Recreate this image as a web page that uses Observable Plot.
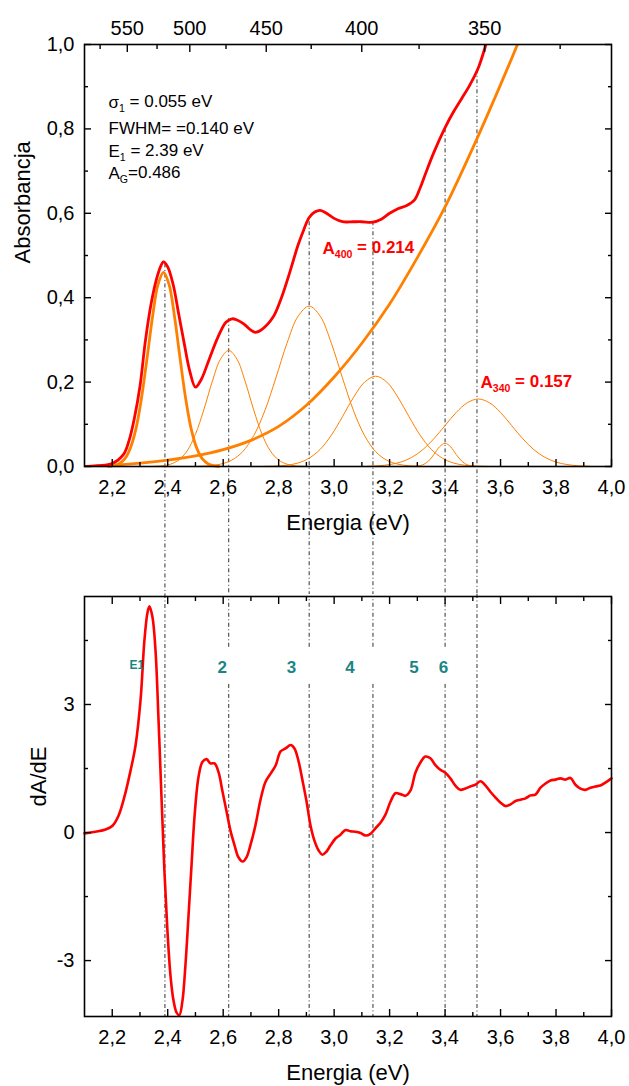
<!DOCTYPE html>
<html>
<head>
<meta charset="utf-8">
<script src="https://cdn.jsdelivr.net/npm/d3@7"></script>
<script src="https://cdn.jsdelivr.net/npm/@observablehq/plot@0.6"></script>
<style>
  html, body { margin: 0; padding: 0; background: #fff; }
  #chart svg { display: block; }
</style>
</head>
<body>
<div id="chart"></div>
<script>
// ---------------- DATA ----------------
// Total absorbance (red)
const totalE = [2.10, 2.15, 2.20, 2.24, 2.26, 2.28, 2.30, 2.32, 2.34, 2.36, 2.375, 2.385, 2.40, 2.42, 2.44, 2.46, 2.48, 2.50, 2.52, 2.55, 2.58, 2.61, 2.632, 2.65, 2.674, 2.70, 2.716, 2.74, 2.78, 2.81, 2.84, 2.87, 2.89, 2.91, 2.93, 2.95, 2.975, 3.00, 3.03, 3.07, 3.10, 3.14, 3.17, 3.20, 3.23, 3.26, 3.29, 3.31, 3.33, 3.36, 3.40, 3.43, 3.46, 3.49, 3.52, 3.545, 3.56];
const totalA = [0.000, 0.002, 0.007, 0.028, 0.060, 0.115, 0.190, 0.300, 0.385, 0.445, 0.475, 0.485, 0.473, 0.430, 0.360, 0.290, 0.225, 0.188, 0.205, 0.255, 0.305, 0.342, 0.350, 0.347, 0.338, 0.323, 0.318, 0.325, 0.354, 0.400, 0.460, 0.525, 0.560, 0.590, 0.603, 0.607, 0.599, 0.588, 0.580, 0.580, 0.580, 0.579, 0.586, 0.600, 0.611, 0.618, 0.632, 0.660, 0.695, 0.745, 0.803, 0.840, 0.872, 0.905, 0.945, 0.995, 1.03];
// Background (thick orange)
const bgE = [2.10, 2.20, 2.30, 2.40, 2.50, 2.60, 2.70, 2.80, 2.90, 3.00, 3.10, 3.20, 3.30, 3.40, 3.50, 3.60, 3.67, 3.70];
const bgA = [0.000, 0.003, 0.008, 0.015, 0.025, 0.040, 0.062, 0.095, 0.145, 0.212, 0.292, 0.385, 0.495, 0.615, 0.755, 0.905, 1.015, 1.07];
// Band 1 (thick orange)
const band1E = [2.185, 2.205, 2.225, 2.245, 2.265, 2.285, 2.305, 2.325, 2.345, 2.365, 2.385, 2.405, 2.425, 2.445, 2.465, 2.485, 2.505, 2.525, 2.545, 2.565, 2.585];
const band1A = [0.0005, 0.002, 0.0067, 0.018, 0.043, 0.088, 0.160, 0.254, 0.353, 0.431, 0.46, 0.431, 0.353, 0.254, 0.160, 0.088, 0.043, 0.018, 0.0067, 0.002, 0.0005];
// Bands 2-6 (thin orange)
const band2E = [2.35, 2.38, 2.41, 2.44, 2.47, 2.50, 2.53, 2.56, 2.59, 2.62, 2.65, 2.68, 2.71, 2.74, 2.77, 2.80, 2.83, 2.86, 2.89];
const band2A = [0.0004, 0.0016, 0.0055, 0.0154, 0.037, 0.0765, 0.134, 0.200, 0.254, 0.275, 0.254, 0.200, 0.134, 0.0765, 0.037, 0.0154, 0.0055, 0.0016, 0.0004];
const band3E = [2.51, 2.55, 2.59, 2.63, 2.67, 2.71, 2.75, 2.79, 2.83, 2.87, 2.91, 2.95, 2.99, 3.03, 3.07, 3.11, 3.15, 3.19, 3.23, 3.27, 3.31];
const band3A = [0.0005, 0.0018, 0.0055, 0.0148, 0.035, 0.073, 0.132, 0.210, 0.292, 0.356, 0.38, 0.356, 0.292, 0.210, 0.132, 0.073, 0.035, 0.0148, 0.0055, 0.0018, 0.0005];
const band4E = [2.75, 2.79, 2.83, 2.87, 2.91, 2.95, 2.99, 3.03, 3.07, 3.11, 3.15, 3.19, 3.23, 3.27, 3.31, 3.35, 3.39, 3.43, 3.47, 3.51, 3.55];
const band4A = [0.0003, 0.001, 0.0031, 0.0083, 0.0198, 0.0409, 0.0743, 0.118, 0.164, 0.200, 0.214, 0.200, 0.164, 0.118, 0.0743, 0.0409, 0.0198, 0.0083, 0.0031, 0.001, 0.0003];
const band5E = [3.28, 3.30, 3.32, 3.34, 3.36, 3.38, 3.40, 3.42, 3.44, 3.46, 3.48, 3.50, 3.52];
const band5A = [0.00015, 0.0009, 0.0040, 0.0127, 0.0286, 0.0467, 0.055, 0.0467, 0.0286, 0.0127, 0.0040, 0.0009, 0.00015];
const band6E = [3.12, 3.16, 3.20, 3.24, 3.28, 3.32, 3.36, 3.40, 3.44, 3.48, 3.52, 3.56, 3.60, 3.64, 3.68, 3.72, 3.76, 3.80, 3.84, 3.88, 3.92];
const band6A = [0.0006, 0.0018, 0.0046, 0.0105, 0.0217, 0.040, 0.066, 0.097, 0.128, 0.151, 0.16, 0.151, 0.128, 0.097, 0.066, 0.040, 0.0217, 0.0105, 0.0046, 0.0018, 0.0006];

// Derivative dA/dE (bottom panel)
const derivE = [2.100, 2.140, 2.176, 2.201, 2.223, 2.244, 2.266, 2.284, 2.302, 2.316, 2.327, 2.334, 2.345, 2.356, 2.367, 2.378, 2.388, 2.399, 2.410, 2.421, 2.432, 2.442, 2.453, 2.464, 2.475, 2.486, 2.497, 2.511, 2.525, 2.540, 2.554, 2.569, 2.583, 2.597, 2.612, 2.626, 2.641, 2.655, 2.670, 2.684, 2.698, 2.716, 2.734, 2.752, 2.771, 2.789, 2.807, 2.825, 2.843, 2.857, 2.871, 2.886, 2.900, 2.915, 2.929, 2.944, 2.958, 2.972, 2.987, 3.005, 3.023, 3.041, 3.059, 3.077, 3.095, 3.113, 3.131, 3.149, 3.167, 3.185, 3.203, 3.221, 3.239, 3.257, 3.275, 3.293, 3.311, 3.329, 3.347, 3.365, 3.383, 3.401, 3.419, 3.437, 3.455, 3.473, 3.491, 3.509, 3.528, 3.546, 3.564, 3.582, 3.600, 3.618, 3.636, 3.654, 3.672, 3.690, 3.708, 3.726, 3.744, 3.762, 3.780, 3.798, 3.816, 3.834, 3.852, 3.870, 3.888, 3.906, 3.924, 3.942, 3.960, 3.978, 4.000];
const derivV = [-0.02, 0.02, 0.07, 0.16, 0.40, 0.84, 1.45, 2.04, 3.10, 4.50, 5.15, 5.30, 5.05, 4.27, 2.62, 0.75, -0.89, -2.30, -3.35, -3.94, -4.22, -4.28, -3.95, -3.10, -1.95, -0.75, 0.40, 1.30, 1.65, 1.72, 1.62, 1.62, 1.42, 0.98, 0.50, 0.05, -0.30, -0.58, -0.68, -0.58, -0.30, 0.16, 0.75, 1.18, 1.38, 1.57, 1.90, 1.97, 2.05, 1.97, 1.69, 1.22, 0.75, 0.16, -0.19, -0.42, -0.52, -0.45, -0.30, -0.14, -0.05, 0.06, 0.03, 0.02, -0.01, -0.07, -0.03, 0.10, 0.23, 0.42, 0.72, 0.92, 0.90, 0.86, 0.98, 1.40, 1.64, 1.78, 1.74, 1.58, 1.47, 1.40, 1.27, 1.10, 1.00, 1.03, 1.08, 1.12, 1.20, 1.10, 0.95, 0.82, 0.70, 0.62, 0.66, 0.74, 0.77, 0.80, 0.87, 0.89, 1.05, 1.15, 1.22, 1.24, 1.27, 1.24, 1.28, 1.12, 1.03, 1.00, 1.05, 1.08, 1.10, 1.17, 1.27];

// Band positions (vertical dash-dot lines) and where they start on the red curve
const bandLineE = [2.39, 2.62, 2.91, 3.14, 3.40, 3.515];
const bandLineTopA = [0.48, 0.35, 0.58, 0.58, 0.80, 0.94];
const bandLineBroken = [false, true, true, true, true, false];
const brokenRange = [3.47, 4.34];

// Axes
const energyDomain = [2.1, 4.0];
const absDomain = [0, 1];
const derivDomain = [-4.31, 5.53];
const energyTicks = [2.2, 2.4, 2.6, 2.8, 3.0, 3.2, 3.4, 3.6, 3.8, 4.0];
const energyMinor = [2.3, 2.5, 2.7, 2.9, 3.1, 3.3, 3.5, 3.7, 3.9];
const absTicks = [0, 0.2, 0.4, 0.6, 0.8, 1.0];
const absMinor = [0.1, 0.3, 0.5, 0.7, 0.9];
const derivTicks = [-3, 0, 3];
const derivMinor = [-1.5, 1.5, 4.5];
const nmTicks = [550, 500, 450, 400, 350];
const nmMinor = [575, 525, 475, 425, 375, 325];
const HC = 1239.84; // eV·nm

// Texts
const fitParams = ["σ_{1} = 0.055 eV", "FWHM= =0.140 eV", "E_{1} = 2.39 eV", "A_{G}=0.486"];
const a400Label = "A_{400} = 0.214";
const a340Label = "A_{340} = 0.157";
const peakLabels = ["2", "3", "4", "5", "6"];
const peakLabelE = [2.597, 2.846, 3.057, 3.288, 3.394];
const e1Label = "E1";
const e1LabelE = 2.289;
const peakLabelLevel = 3.87;

// ---------------- HELPERS ----------------
const FONT = "'Liberation Sans', Arial, Helvetica, sans-serif";
const RED = "#ff0000";
const ORANGE = "#ff8000";
const TEAL = "#1a8585";
const DASH = "4,2.5,1,2.5";
const comma1 = d => d.toFixed(1).replace(".", ",");
const rows = (E, V) => E.map((e, i) => ({E: e, V: V[i]}));
const blank = () => "";

function subscripts(svg) {
  const ns = "http://www.w3.org/2000/svg";
  svg.querySelectorAll("text").forEach(t => {
    const s = t.textContent;
    if (!s.includes("_{")) return;
    while (t.firstChild) t.removeChild(t.firstChild);
    const re = /_\{([^}]*)\}/g;
    let last = 0, m, up = false;
    const plain = str => {
      const ts = document.createElementNS(ns, "tspan");
      if (up) { ts.setAttribute("dy", "-0.28em"); up = false; }
      ts.textContent = str;
      t.appendChild(ts);
    };
    while ((m = re.exec(s))) {
      if (m.index > last) plain(s.slice(last, m.index));
      const sub = document.createElementNS(ns, "tspan");
      sub.style.fontSize = "0.62em";
      sub.setAttribute("dy", "0.45em");
      sub.textContent = m[1];
      t.appendChild(sub);
      up = true;
      last = re.lastIndex;
    }
    if (last < s.length) plain(s.slice(last));
  });
}

const axisCommon = {stroke: "black", strokeWidth: 1.4, label: null};
const ruleStyle = {stroke: "#1a1a1a", strokeWidth: 0.9, strokeDasharray: DASH};
const chart = document.getElementById("chart");

// ---------------- TOP PANEL ----------------
const TOP_GAP = 128; // extension of band lines down to the lower panel
const bandRows = bandLineE.map((e, i) => ({E: e, A: bandLineTopA[i], broken: bandLineBroken[i]}));

const topPlot = Plot.plot({
  width: 629, height: 594,
  marginTop: 44, marginBottom: 128, marginLeft: 84, marginRight: 18,
  style: {fontFamily: FONT, fontSize: "20px", color: "black", background: "white", overflow: "visible"},
  x: {domain: energyDomain},
  y: {domain: absDomain},
  marks: [
    Plot.ruleX(bandRows, {x: "E", y1: "A", y2: 0, insetBottom: -TOP_GAP, ...ruleStyle}),
    Plot.line(rows(band2E, band2A), {x: "E", y: "V", stroke: ORANGE, strokeWidth: 1, curve: "catmull-rom"}),
    Plot.line(rows(band3E, band3A), {x: "E", y: "V", stroke: ORANGE, strokeWidth: 1, curve: "catmull-rom"}),
    Plot.line(rows(band4E, band4A), {x: "E", y: "V", stroke: ORANGE, strokeWidth: 1, curve: "catmull-rom"}),
    Plot.line(rows(band5E, band5A), {x: "E", y: "V", stroke: ORANGE, strokeWidth: 1, curve: "catmull-rom"}),
    Plot.line(rows(band6E, band6A), {x: "E", y: "V", stroke: ORANGE, strokeWidth: 1, curve: "catmull-rom"}),
    Plot.line(rows(bgE, bgA), {x: "E", y: "V", stroke: ORANGE, strokeWidth: 2.8, curve: "catmull-rom", clip: true}),
    Plot.line(rows(band1E, band1A), {x: "E", y: "V", stroke: ORANGE, strokeWidth: 2.8, curve: "catmull-rom"}),
    Plot.line(rows(totalE, totalA), {x: "E", y: "V", stroke: RED, strokeWidth: 2.8, curve: "catmull-rom", clip: true}),
    // bottom energy axis
    Plot.axisX(energyTicks, {...axisCommon, anchor: "bottom", tickSize: -7, tickPadding: 20, tickFormat: comma1}),
    Plot.axisX(energyMinor, {...axisCommon, anchor: "bottom", tickSize: -4, tickFormat: blank}),
    // top wavelength axis
    Plot.axisX(nmTicks.map(n => HC / n), {...axisCommon, anchor: "top", tickSize: -7, tickPadding: 17, tickFormat: (d, i) => String(nmTicks[i])}),
    Plot.axisX(nmMinor.map(n => HC / n), {...axisCommon, anchor: "top", tickSize: -4, tickFormat: blank}),
    // left / right absorbance axes
    Plot.axisY(absTicks, {...axisCommon, anchor: "left", tickSize: -7, tickPadding: 17, tickFormat: comma1}),
    Plot.axisY(absMinor, {...axisCommon, anchor: "left", tickSize: -4, tickFormat: blank}),
    Plot.axisY(absTicks, {...axisCommon, anchor: "right", tickSize: -7, tickFormat: blank}),
    Plot.axisY(absMinor, {...axisCommon, anchor: "right", tickSize: -4, tickFormat: blank}),
    Plot.frame({stroke: "black", strokeWidth: 1.6}),
    // axis titles
    Plot.text(["Energia (eV)"], {frameAnchor: "bottom", dy: 63, lineAnchor: "bottom", fontSize: 22, fill: "black"}),
    Plot.text(["Absorbancja"], {frameAnchor: "left", rotate: -90, dx: -55, dy: 8, lineAnchor: "bottom", fontSize: 22, fill: "black"}),
    // fit parameters
    Plot.text([fitParams[0]], {frameAnchor: "top-left", dx: 24, dy: 63, textAnchor: "start", lineAnchor: "bottom", fontSize: 17, fill: "black"}),
    Plot.text([fitParams[1]], {frameAnchor: "top-left", dx: 24, dy: 89, textAnchor: "start", lineAnchor: "bottom", fontSize: 17, fill: "black"}),
    Plot.text([fitParams[2]], {frameAnchor: "top-left", dx: 24, dy: 112, textAnchor: "start", lineAnchor: "bottom", fontSize: 17, fill: "black"}),
    Plot.text([fitParams[3]], {frameAnchor: "top-left", dx: 24, dy: 134, textAnchor: "start", lineAnchor: "bottom", fontSize: 17, fill: "black"}),
    // band amplitude labels
    Plot.text([a400Label], {frameAnchor: "top-left", dx: 238, dy: 209, textAnchor: "start", lineAnchor: "bottom", fontSize: 17, fontWeight: "bold", fill: RED}),
    Plot.text([a340Label], {frameAnchor: "top-left", dx: 396, dy: 343, textAnchor: "start", lineAnchor: "bottom", fontSize: 17, fontWeight: "bold", fill: RED})
  ]
});
subscripts(topPlot);
chart.appendChild(topPlot);

// ---------------- BOTTOM PANEL ----------------
const bottomPlot = Plot.plot({
  width: 629, height: 492,
  marginTop: 2, marginBottom: 70, marginLeft: 84, marginRight: 18,
  style: {fontFamily: FONT, fontSize: "20px", color: "black", background: "white", overflow: "visible"},
  x: {domain: energyDomain},
  y: {domain: derivDomain},
  marks: [
    Plot.ruleX(bandRows.filter(d => !d.broken), {x: "E", insetTop: -2, ...ruleStyle}),
    Plot.ruleX(bandRows.filter(d => d.broken), {x: "E", y1: brokenRange[1], y2: derivDomain[1], insetBottom: -2, ...ruleStyle}),
    Plot.ruleX(bandRows.filter(d => d.broken), {x: "E", y1: brokenRange[0], y2: derivDomain[0], ...ruleStyle}),
    Plot.line(rows(derivE, derivV), {x: "E", y: "V", stroke: RED, strokeWidth: 2.6, curve: "catmull-rom"}),
    Plot.text(peakLabels, {x: (d, i) => peakLabelE[i], y: () => peakLabelLevel, fontSize: 17, fontWeight: "bold", fill: TEAL}),
    Plot.text([e1Label], {x: () => e1LabelE, y: () => peakLabelLevel + 0.05, fontSize: 12, fontWeight: "bold", fill: TEAL}),
    Plot.axisX(energyTicks, {...axisCommon, anchor: "bottom", tickSize: -7, tickPadding: 20, tickFormat: comma1}),
    Plot.axisX(energyMinor, {...axisCommon, anchor: "bottom", tickSize: -4, tickFormat: blank}),
    Plot.axisX(energyTicks, {...axisCommon, anchor: "top", tickSize: -7, tickFormat: blank}),
    Plot.axisX(energyMinor, {...axisCommon, anchor: "top", tickSize: -4, tickFormat: blank}),
    Plot.axisY(derivTicks, {...axisCommon, anchor: "left", tickSize: -7, tickPadding: 17, tickFormat: d => String(d)}),
    Plot.axisY(derivMinor, {...axisCommon, anchor: "left", tickSize: -4, tickFormat: blank}),
    Plot.axisY(derivTicks, {...axisCommon, anchor: "right", tickSize: -7, tickFormat: blank}),
    Plot.axisY(derivMinor, {...axisCommon, anchor: "right", tickSize: -4, tickFormat: blank}),
    Plot.frame({stroke: "black", strokeWidth: 1.6}),
    Plot.text(["Energia (eV)"], {frameAnchor: "bottom", dy: 63, lineAnchor: "bottom", fontSize: 22, fill: "black"}),
    Plot.text(["dA/dE"], {frameAnchor: "left", rotate: -90, dx: -39, lineAnchor: "bottom", fontSize: 22, fill: "black"})
  ]
});
chart.appendChild(bottomPlot);
</script>
</body>
</html>
